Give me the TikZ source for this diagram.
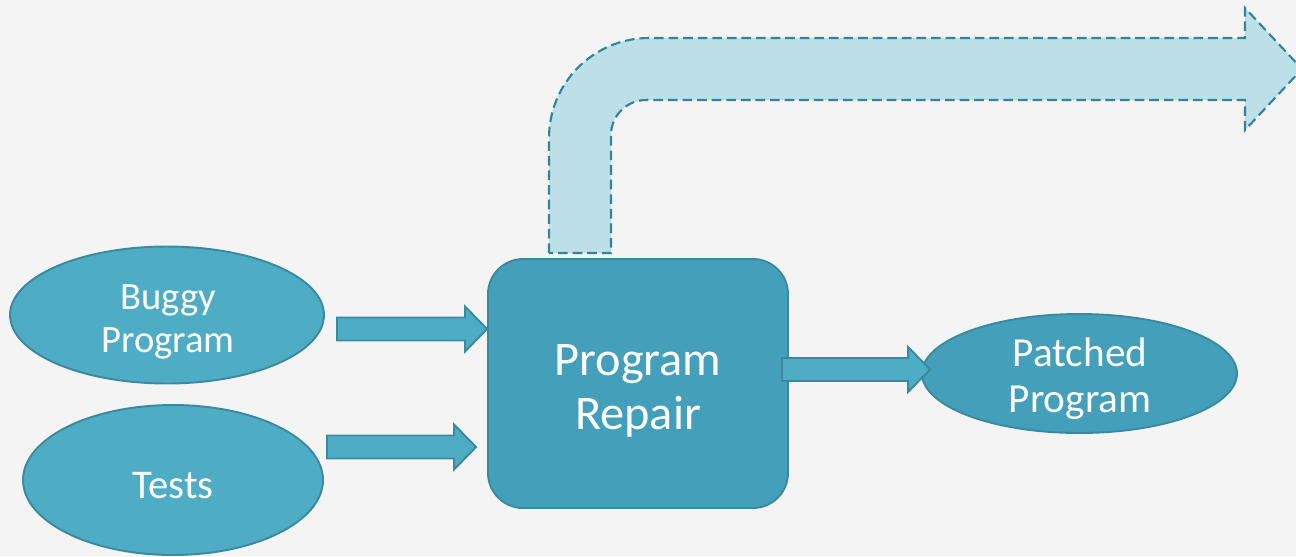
\documentclass[tikz,border=0pt]{standalone}
\usepackage{fontspec}
\setmainfont{Carlito}
\usetikzlibrary{shapes.geometric,calc}
\definecolor{bgc}{HTML}{F4F4F4}
\definecolor{lightfill}{HTML}{4FACC5}
\definecolor{darkfill}{HTML}{439FBA}
\definecolor{edgec}{HTML}{3A8A9F}
\definecolor{paleblue}{HTML}{BDDFE8}
\definecolor{dashc}{HTML}{31849B}
\tikzset{
  ell/.style={ellipse, draw=edgec, line width=1.1pt, inner sep=0pt},
  lbl/.style={text=white, align=center, inner sep=0pt},
  repairbox/.style={rectangle, rounded corners=0.7cm, draw=edgec, line width=1.1pt, fill=darkfill},
  barrow/.style={draw=edgec, line width=1.1pt, fill=lightfill, line join=miter},
  dasharrow/.style={draw=dashc, line width=1.2pt, fill=paleblue, dash pattern=on 5.5pt off 2.8pt}
}
\newcommand\blockarr[2]{%
  \draw[barrow] ($(#1)+(0,-11.5)$) -- ($(#2)+(-22,-11.5)$) -- ($(#2)+(-22,-22.5)$) -- (#2)
    -- ($(#2)+(-22,22.5)$) -- ($(#2)+(-22,11.5)$) -- ($(#1)+(0,11.5)$) -- cycle;}
\begin{document}
\begin{tikzpicture}[x=0.02cm,y=-0.02cm]
\fill[bgc] (0,0) rectangle (1296,556);
\useasboundingbox (0,0) rectangle (1296,556);
\clip (0,0) rectangle (1296,556);
% dashed bent arrow
\draw[dasharrow] (549,253) -- (549,138) .. controls (549,82.8) and (593.8,38) .. (649,38)
  -- (1245,38) -- (1245,8) -- (1302,69) -- (1245,130) -- (1245,100) -- (646,100)
  .. controls (626.7,100) and (611,115.7) .. (611,135) -- (611,253) -- cycle;
% nodes
\node[ell, fill=lightfill, minimum width=6.28cm, minimum height=2.74cm] (buggy) at (167,315) {};
\node[lbl, font=\fontsize{22}{24.5}\selectfont] (buggytxt) at (168,322) {Buggy\\Program};
\node[ell, fill=lightfill, minimum width=6.0cm, minimum height=3.0cm] (tests) at (173,480) {};
\node[lbl, font=\fontsize{23.2}{26}\selectfont] (teststxt) at (173,486) {Tests};
\node[repairbox, minimum width=6.0cm, minimum height=4.98cm] (repair) at (638,383.5) {};
\node[lbl, font=\fontsize{27.5}{30.5}\selectfont] (repairtxt) at (638,391) {Program\\Repair};
\node[ell, fill=darkfill, minimum width=6.3cm, minimum height=2.38cm] (patched) at (1079.5,373.5) {};
\node[lbl, font=\fontsize{23.5}{26}\selectfont] (patchedtxt) at (1080,379) {Patched\\Program};
% block arrows
\coordinate (a1s) at (337,329);
\coordinate (a1e) at (repair.west |- a1s);
\coordinate (a2s) at (327,447);
\coordinate (a2e) at ($(repair.west |- a2s)+(-11,0)$);
\coordinate (a3s) at (782,369.5);
\coordinate (a3e) at ($(patched.west |- a3s)+(9,0)$);
\blockarr{a1s}{a1e}
\blockarr{a2s}{a2e}
\blockarr{a3s}{a3e}
\end{tikzpicture}
\end{document}
